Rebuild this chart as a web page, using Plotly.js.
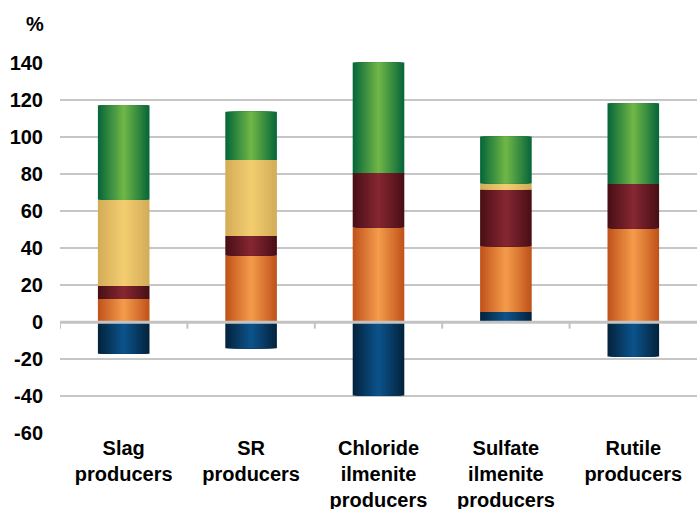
<!DOCTYPE html>
<html>
<head>
<meta charset="utf-8">
<script src="https://cdn.plot.ly/plotly-3.0.1.min.js"></script>
<style>html,body{margin:0;padding:0;background:#fff;}#chart{width:697px;height:509px;}</style>
</head>
<body>
<div id="chart"></div>
<script>
// ---- data ----
const categories = ['Slag<br>producers', 'SR<br>producers', 'Chloride<br>ilmenite<br>producers', 'Sulfate<br>ilmenite<br>producers', 'Rutile<br>producers'];
const blueVals   = [-17, -14, -39.5, 5.5, -18.5];
const orangeVals = [12.5, 36, 51, 35.5, 50.5];
const maroonVals = [7, 10.5, 29.5, 30.5, 24];
const yellowVals = [46.5, 41, 0, 3.3, 0];
const greenVals  = [51, 26, 59.5, 25.3, 43.5];
const yTicks = [-60, -40, -20, 0, 20, 40, 60, 80, 100, 120, 140];

// ---- styles ----
const seriesList = [
  {name: 'Blue',   vals: blueVals,   edge: [4, 36, 62],   center: [12, 82, 138]},
  {name: 'Orange', vals: orangeVals, edge: [193, 84, 28], center: [243, 154, 74]},
  {name: 'Maroon', vals: maroonVals, edge: [74, 15, 22],  center: [133, 39, 50]},
  {name: 'Yellow', vals: yellowVals, edge: [211, 173, 88], center: [243, 204, 112]},
  {name: 'Green',  vals: greenVals,  edge: [8, 104, 58],  center: [110, 181, 71]}
];
const FONT = 'Liberation Sans, Arial, sans-serif';
const BAR_W = 0.405;
const LAYERS = 16;

const xs = categories.map((_, i) => i);
const posBase = xs.map(() => 0);
const negBase = xs.map(() => 0);
const traces = [];

function mix(a, b, t) {
  return 'rgb(' + a.map((v, k) => Math.round(v + (b[k] - v) * t)).join(',') + ')';
}

seriesList.forEach(s => {
  const bases = s.vals.map((v, i) => v >= 0 ? posBase[i] : negBase[i]);
  s.vals.forEach((v, i) => { if (v >= 0) posBase[i] += v; else negBase[i] += v; });
  for (let L = 0; L < LAYERS; L++) {
    const frac = 1 - L / LAYERS;
    traces.push({
      type: 'bar',
      x: xs,
      y: s.vals,
      base: bases,
      width: BAR_W * frac,
      name: s.name,
      showlegend: false,
      hoverinfo: L === 0 ? 'y+name' : 'skip',
      marker: {color: mix(s.edge, s.center, L / (LAYERS - 1)), line: {width: 0}}
    });
  }
});

const shapes = [{
  type: 'line', xref: 'paper', yref: 'y', x0: 0, x1: 1, y0: 0, y1: 0,
  line: {color: '#c3c3c3', width: 3}, layer: 'above'
}];
for (let i = 0; i < categories.length; i++) {
  shapes.push({
    type: 'line', xref: 'x', yref: 'y', x0: i - 0.5, x1: i - 0.5, y0: 0, y1: -3.5,
    line: {color: '#c3c3c3', width: 2}, layer: 'above'
  });
}

const layout = {
  width: 697, height: 509,
  margin: {l: 60, r: 0, t: 62, b: 75},
  paper_bgcolor: '#ffffff', plot_bgcolor: '#ffffff',
  barmode: 'overlay',
  font: {family: FONT, size: 20, color: '#000', weight: 'bold'},
  xaxis: {
    range: [-0.5, 4.5], tickvals: xs, ticktext: categories,
    showgrid: false, zeroline: false, showline: false, ticks: '',
    tickfont: {family: FONT, size: 20, color: '#000', weight: 'bold'},
    automargin: false, fixedrange: true
  },
  yaxis: {
    range: [-60.3, 140.3], tickvals: yTicks, ticktext: yTicks.map(String),
    showgrid: true, gridcolor: '#c6c6c6', gridwidth: 2,
    zeroline: false, showline: false, ticks: '',
    ticklabelstandoff: 16,
    tickfont: {family: FONT, size: 20, color: '#000', weight: 'bold'},
    automargin: false, fixedrange: true
  },
  shapes: shapes,
  annotations: [{
    text: '%', xref: 'paper', yref: 'paper', x: -25.5 / 637, y: 1 + 38 / 372,
    xanchor: 'center', yanchor: 'middle', showarrow: false,
    font: {family: FONT, size: 20, color: '#000', weight: 'bold'}
  }]
};

Plotly.newPlot('chart', traces, layout, {displayModeBar: false, staticPlot: true});
</script>
</body>
</html>
